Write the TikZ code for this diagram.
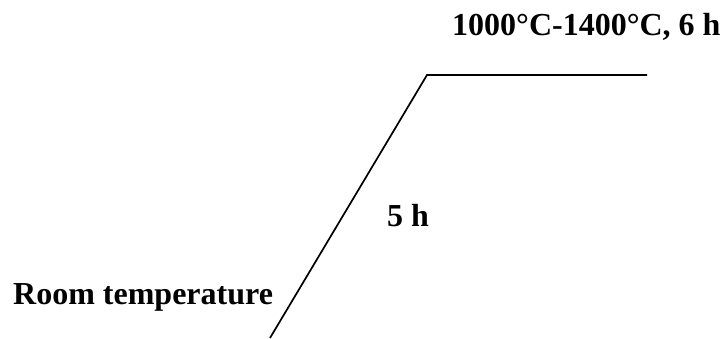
\documentclass[tikz,border=0pt]{standalone}
\usepackage{fontspec}
\setmainfont{Liberation Serif}
\usetikzlibrary{positioning}

\begin{document}
\begin{tikzpicture}[
  x=1pt, y=1pt,
  every node/.style={font=\fontsize{32}{38}\selectfont\bfseries},
  lbl/.style={anchor=base west, inner sep=0pt},
  profile/.style={line width=1.7pt, line join=miter}
]
  \useasboundingbox (0,0) rectangle (724,338);
  \coordinate (start) at (270,0);
  \coordinate (ramptop) at (427,263);
  \coordinate (holdend) at (647,263);

  \node[lbl] (room) at (13,34) {Room temperature};
  \node[lbl] (rate) at (387,111) {5 h};
  \node[lbl] (hold) at (452,302) {1000°C-1400°C, 6 h};

  \draw[profile] (start) -- (ramptop) -- (holdend);
\end{tikzpicture}
\end{document}
